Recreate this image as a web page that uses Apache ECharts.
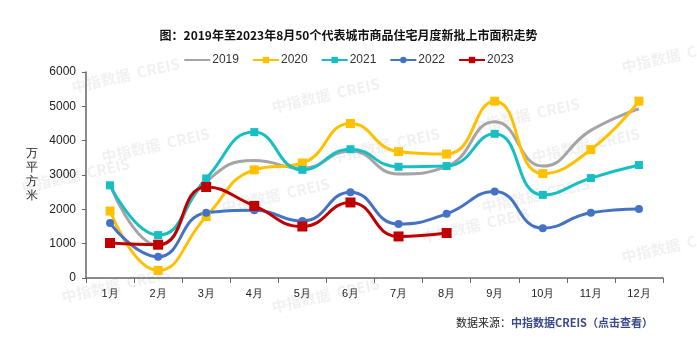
<!DOCTYPE html>
<html>
<head>
<meta charset="utf-8">
<script src="https://cdn.jsdelivr.net/npm/echarts@6/dist/echarts.min.js"></script>
<style>
  html, body { margin: 0; padding: 0; background: #fff; }
  #chart { width: 697px; height: 351px; }
</style>
</head>
<body>
<div id="chart"></div>
<script>
var months = ['1月', '2月', '3月', '4月', '5月', '6月', '7月', '8月', '9月', '10月', '11月', '12月'];
var y2019 = [2700, 950, 2800, 3420, 3200, 3700, 3030, 3250, 4550, 3260, 4300, 4930];
var y2020 = [1950, 220, 1790, 3150, 3350, 4500, 3680, 3610, 5150, 3040, 3740, 5150];
var y2021 = [2700, 1250, 2900, 4250, 3150, 3750, 3240, 3260, 4200, 2420, 2910, 3290];
var y2022 = [1600, 620, 1900, 1970, 1660, 2500, 1570, 1870, 2520, 1450, 1900, 2010];
var y2023 = [1020, 970, 2650, 2100, 1500, 2200, 1210, 1310];

var chart = echarts.init(document.getElementById('chart'), null, {renderer: 'canvas'});

// faint watermarks
var marks = [[70, 80], [270, 100], [470, 120], [620, 60], [20, 180], [220, 200], [420, 230], [620, 250], [60, 290], [270, 300], [480, 200], [100, 150], [330, 150], [530, 150]];
var wm = marks.map(function (p) {
    return {
        type: 'text', x: p[0], y: p[1], rotation: 0.22, z: -1, silent: true,
        style: {text: '中指数据  CREIS', fill: 'rgba(0,0,0,0.06)', font: 'bold 15px "Noto Sans CJK SC", sans-serif'}
    };
});

function line(name, data, color, symbol, size) {
    return {
        name: name, type: 'line', data: data, smooth: 0.5,
        symbol: symbol, symbolSize: size, showSymbol: symbol !== 'none',
        lineStyle: {color: color, width: 3},
        itemStyle: {color: color}
    };
}

chart.setOption({
    animation: false,
    title: {
        text: '图：2019年至2023年8月50个代表城市商品住宅月度新批上市面积走势',
        left: 'center', top: 24,
        textStyle: {fontSize: 12, fontWeight: 'bold', color: '#111', fontFamily: '"Noto Sans CJK SC", sans-serif'}
    },
    legend: {
        top: 49, left: 'center', itemGap: 13, itemWidth: 26, itemHeight: 8,
        textStyle: {fontSize: 12, color: '#333', fontFamily: 'Arial, "Liberation Sans", sans-serif', padding: [0, 0, 0, -3]},
        data: [{name: '2019', itemStyle: {opacity: 0}}, '2020', '2021', '2022', '2023']
    },
    grid: {left: 86, right: 34, top: 72, bottom: 73},
    xAxis: {
        type: 'category', data: months, boundaryGap: true,
        axisLine: {lineStyle: {color: '#666', width: 1.5}},
        axisTick: {show: true, alignWithLabel: false, lineStyle: {color: '#666'}},
        axisLabel: {color: '#222', fontSize: 11, margin: 10}
    },
    yAxis: {
        type: 'value', min: 0, max: 6000, interval: 1000,
        name: '万\n平\n方\n米', nameLocation: 'middle', nameGap: 48, nameRotate: 0,
        nameTextStyle: {color: '#222', fontSize: 12, lineHeight: 14},
        axisLine: {show: true, lineStyle: {color: '#666', width: 1.5}},
        axisTick: {show: true, inside: false, length: 4, lineStyle: {color: '#666'}},
        splitLine: {show: false},
        axisLabel: {color: '#222', fontSize: 12, margin: 10, formatter: function (v) { return String(v); }}
    },
    graphic: wm.concat([
        {
            type: 'text', left: 456, top: 317,
            style: {
                text: '{a|数据来源：}{b|中指数据CREIS（点击查看）}',
                rich: {
                    a: {fontSize: 11, fill: '#222', fontFamily: '"Noto Sans CJK SC", sans-serif'},
                    b: {fontSize: 11, fill: '#3a4a8a', fontWeight: 'bold', fontFamily: '"Noto Sans CJK SC", sans-serif'}
                }
            }
        }
    ]),
    series: [
        line('2019', y2019, '#a5a5a5', 'none', 0),
        line('2020', y2020, '#ffc000', 'rect', 9),
        line('2021', y2021, '#17bfc4', 'rect', 8),
        line('2022', y2022, '#4472c4', 'circle', 8),
        line('2023', y2023, '#c00000', 'rect', 10)
    ]
});
</script>
</body>
</html>
